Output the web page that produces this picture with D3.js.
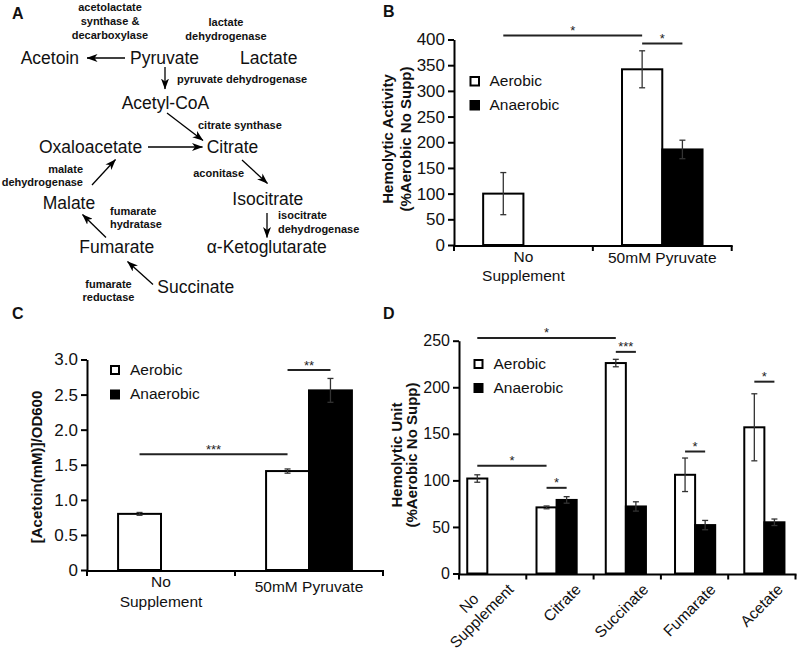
<!DOCTYPE html>
<html><head><meta charset="utf-8">
<script src="https://cdn.jsdelivr.net/npm/d3@7"></script>
<style>body{margin:0;background:#fff}svg{display:block}</style>
</head><body>
<script>
// ================= DATA =================
// Panel A: pathway
const metabolites = ["Acetoin","Pyruvate","Lactate","Acetyl-CoA","Oxaloacetate","Citrate","Malate","Isocitrate","Fumarate","α-Ketoglutarate","Succinate"];
const reactions = [["Pyruvate","Acetoin"],["Pyruvate","Acetyl-CoA"],["Acetyl-CoA","Citrate"],["Oxaloacetate","Citrate"],["Malate","Oxaloacetate"],["Fumarate","Malate"],["Succinate","Fumarate"],["Citrate","Isocitrate"],["Isocitrate","α-Ketoglutarate"]];
const enzymes = [["acetolactate","synthase &","decarboxylase"],["lactate","dehydrogenase"],["pyruvate dehydrogenase"],["citrate synthase"],["malate","dehydrogenase"],["aconitase"],["fumarate","hydratase"],["isocitrate","dehydrogenase"],["fumarate","reductase"]];

// Panel B: hemolytic activity
const bCategories = ["No Supplement","50mM Pyruvate"];
const bLabels = [["No","Supplement"],["50mM Pyruvate"]];
const bAerobic = [100, 342];
const bAerobicErr = [41, 36];
const bAnaerobic = [null, 186];
const bAnaerobicErr = [null, 18];
const bTicks = [0,50,100,150,200,250,300,350,400];
const bSig = [{from:[0,"a"],to:[1,"a"],y:408,label:"*"},{from:[1,"a"],to:[1,"n"],y:392,label:"*"}];

// Panel C: acetoin
const cCategories = ["No Supplement","50mM Pyruvate"];
const cLabels = [["No","Supplement"],["50mM Pyruvate"]];
const cAerobic = [0.80, 1.41];
const cAerobicErr = [0.02, 0.03];
const cAnaerobic = [null, 2.56];
const cAnaerobicErr = [null, 0.17];
const cTicks = [0,0.5,1.0,1.5,2.0,2.5,3.0];
const cSig = [{from:[0,"a"],to:[1,"a"],y:1.65,label:"***"},{from:[1,"a"],to:[1,"n"],y:2.85,label:"**"}];

// Panel D: hemolytic unit
const dCategories = ["No Supplement","Citrate","Succinate","Fumarate","Acetate"];
const dLabels = [["No","Supplement"],["Citrate"],["Succinate"],["Fumarate"],["Acetate"]];
const dAerobic = [102, 71, 226, 106, 157];
const dAerobicErr = [4, 1.5, 4, 18, 36];
const dAnaerobic = [null, 79, 72, 52, 55];
const dAnaerobicErr = [null, 3.5, 5, 5, 3.5];
const dTicks = [0,50,100,150,200,250];
const dSig = [
  {from:[0,"a"],to:[2,"a"],y:253,label:"*"},
  {from:[2,"a"],to:[2,"n"],y:238,label:"***"},
  {from:[0,"a"],to:[1,"a"],y:115.6,label:"*"},
  {from:[1,"a"],to:[1,"n"],y:92,label:"*"},
  {from:[3,"a"],to:[3,"n"],y:131,label:"*"},
  {from:[4,"a"],to:[4,"n"],y:206,label:"*"}
];
const seriesNames = ["Aerobic","Anaerobic"];

// ================= LAYOUT =================
const FONT = '"Liberation Sans", Arial, Helvetica, sans-serif';
const W = 798, H = 654;
const svg = d3.select("body").append("svg").attr("width", W).attr("height", H)
  .style("font-family", FONT);
svg.append("rect").attr("width", W).attr("height", H).attr("fill", "#fff");

// ---------- Panel A ----------
const metPos = {
  "Acetoin":[20.7,64], "Pyruvate":[130,64], "Lactate":[240,64], "Acetyl-CoA":[121.7,109],
  "Oxaloacetate":[39,153], "Citrate":[206.7,153], "Malate":[42.7,208.5], "Isocitrate":[232.3,205],
  "Fumarate":[79.3,253.3], "α-Ketoglutarate":[206.7,253.3], "Succinate":[157.3,292.7]
};
const arrowPts = [
  [[125,58],[87,58]], [[165,67],[165,89]], [[167,113],[203,140.5]], [[148,147],[202.5,147]],
  [[92,185],[115.5,159.5]], [[106,237.5],[82.5,214.5]], [[153,284.5],[127.5,261.5]],
  [[242,160],[267.5,183.5]], [[267,213],[267,237.5]]
];
const enzPos = [
  {x:110,y:11,a:"middle",lh:14}, {x:226,y:26,a:"middle",lh:14}, {x:177,y:83,a:"start",lh:14},
  {x:198,y:128.5,a:"start",lh:14}, {x:83,y:172.5,a:"end",lh:13.5}, {x:244,y:177,a:"end",lh:14},
  {x:110,y:214.5,a:"start",lh:13.5}, {x:278,y:219,a:"start",lh:13.5}, {x:108.5,y:287.5,a:"middle",lh:13.5}
];

const defs = svg.append("defs");
defs.append("marker").attr("id","ah").attr("markerUnits","userSpaceOnUse")
  .attr("viewBox","0 0 11 8").attr("markerWidth",11).attr("markerHeight",8)
  .attr("refX",10.5).attr("refY",4).attr("orient","auto")
  .append("path").attr("d","M0,0 L11,4 L0,8 L3,4 Z").attr("fill","#000");

const gA = svg.append("g");
gA.append("text").attr("x",12).attr("y",19).attr("font-size",16).attr("font-weight","bold").attr("fill","#111").text("A");
gA.selectAll("text.met").data(metabolites).join("text").attr("class","met")
  .attr("x", d => metPos[d][0]).attr("y", d => metPos[d][1])
  .attr("font-size", 17.5).attr("fill","#111").text(d => d);
gA.selectAll("line.arr").data(reactions).join("line").attr("class","arr")
  .attr("x1",(d,i)=>arrowPts[i][0][0]).attr("y1",(d,i)=>arrowPts[i][0][1])
  .attr("x2",(d,i)=>arrowPts[i][1][0]).attr("y2",(d,i)=>arrowPts[i][1][1])
  .attr("stroke","#000").attr("stroke-width",1.3).attr("marker-end","url(#ah)");
enzymes.forEach((lines,i) => {
  const p = enzPos[i];
  const t = gA.append("text").attr("font-size",11).attr("font-weight","bold").attr("fill","#111")
    .attr("text-anchor",p.a);
  lines.forEach((ln,j) => t.append("tspan").attr("x",p.x).attr("y",p.y + j*p.lh).text(ln));
});

// ---------- Bar panel ----------
function barPanel(p) {
  const g = svg.append("g");
  const x = d3.scaleBand().domain(p.cats).range(p.xRange);
  const xb = d3.scaleBand().domain(p.cats).range(p.barRange || p.xRange);
  const y = d3.scaleLinear().domain([0, p.yMax]).range(p.yRange);
  const bw = xb.step() * 0.29;
  const cx = c => xb(c) + xb.bandwidth()/2;
  const barMid = (i, s) => cx(p.cats[i]) + (s === "a" ? -bw/2 : bw/2);
  const series = [
    {vals:p.aer, errs:p.aerErr, fill:"#fff", s:"a"},
    {vals:p.ana, errs:p.anaErr, fill:"#000", s:"n"}
  ];
  series.forEach(se => {
    const rows = p.cats.map((c,i)=>({i, v:se.vals[i], e:se.errs[i]})).filter(d => d.v != null);
    g.selectAll(null).data(rows).join("rect")
      .attr("x", d => barMid(d.i, se.s) - bw/2).attr("y", d => y(d.v))
      .attr("width", bw).attr("height", d => y(0) - y(d.v))
      .attr("fill", se.fill).attr("stroke","#000").attr("stroke-width",2);
    const eb = g.selectAll(null).data(rows).join("g").attr("stroke","#333").attr("stroke-width",1.3);
    eb.append("line").attr("x1", d => barMid(d.i, se.s)).attr("x2", d => barMid(d.i, se.s))
      .attr("y1", d => y(d.v - d.e)).attr("y2", d => y(d.v + d.e));
    [-1, 1].forEach(sg => eb.append("line")
      .attr("x1", d => barMid(d.i, se.s) - 3).attr("x2", d => barMid(d.i, se.s) + 3)
      .attr("y1", d => y(d.v + sg*d.e)).attr("y2", d => y(d.v + sg*d.e)));
  });
  // y axis
  const ya = g.append("g").attr("transform", `translate(${p.xRange[0]},0)`)
    .call(d3.axisLeft(y).tickValues(p.ticks).tickFormat(p.fmt).tickSize(6).tickSizeOuter(0).tickPadding(3));
  ya.attr("font-family", FONT).attr("font-size", p.tickFont);
  ya.select(".domain").attr("stroke","#000").attr("stroke-width",2);
  ya.selectAll(".tick line").attr("stroke","#000").attr("stroke-width",2);
  ya.selectAll(".tick text").attr("fill","#111");
  // x axis
  const y0 = y(0);
  g.append("line").attr("x1", p.xRange[0]-1).attr("x2", p.xRange[1]+1).attr("y1", y0+1).attr("y2", y0+1)
    .attr("stroke","#000").attr("stroke-width",2);
  const bounds = p.cats.map(c => x(c)).concat([p.xRange[1]]);
  g.selectAll(null).data(bounds).join("line")
    .attr("x1", d => d).attr("x2", d => d).attr("y1", y0+1).attr("y2", y0+6)
    .attr("stroke","#000").attr("stroke-width",2);
  // category labels
  p.labels.forEach((lines, i) => {
    const c = x(p.cats[i]) + x.bandwidth()/2;
    if (!p.rotate) {
      const t = g.append("text").attr("font-size", p.labelFont).attr("fill","#111").attr("text-anchor","middle");
      if (lines.length === 1) t.append("tspan").attr("x", c).attr("y", y0 + p.singleDy).text(lines[0]);
      else lines.forEach((ln, j) => t.append("tspan").attr("x", c).attr("y", y0 + p.firstDy + j*p.lineH).text(ln));
    } else {
      const lg = g.append("g").attr("transform", `translate(${c + 22},${y0 + 17}) rotate(-45)`);
      const ts = lines.map(ln => lg.append("text").attr("font-size", p.labelFont).attr("fill","#111")
        .attr("text-anchor","middle").text(ln));
      const wmax = d3.max(ts, t => t.node().getComputedTextLength());
      ts.forEach((t, j) => t.attr("x", -wmax/2).attr("y", -(lines.length-1-j)*p.lineH));
    }
  });
  // significance
  p.sig.forEach(s => {
    const xa = barMid(s.from[0], s.from[1]), xz = barMid(s.to[0], s.to[1]), yy = y(s.y);
    g.append("line").attr("x1", xa).attr("x2", xz).attr("y1", yy).attr("y2", yy)
      .attr("stroke","#222").attr("stroke-width",2);
    g.append("text").attr("x", (xa+xz)/2).attr("y", yy - 0.5).attr("text-anchor","middle")
      .attr("font-size", 13).attr("fill","#222").text(s.label);
  });
  // legend
  seriesNames.forEach((nm, k) => {
    const top = p.legend[1] + k*p.legend[2];
    g.append("rect").attr("x", p.legend[0]+1).attr("y", top+1).attr("width", p.legend[3]).attr("height", p.legend[3])
      .attr("fill", k ? "#000" : "#fff").attr("stroke","#000").attr("stroke-width",2);
    g.append("text").attr("x", p.legend[0] + 20).attr("y", top + p.legend[3] + 1.5)
      .attr("font-size", 15.5).attr("fill","#111").text(nm);
  });
  // title
  p.title.forEach((ln, j) => {
    g.append("text").attr("transform", `translate(${p.titleX[j]},${p.titleY}) rotate(-90)`)
      .attr("text-anchor","middle").attr("font-weight","bold").attr("font-size",15).attr("fill","#111").text(ln);
  });
  // panel letter
  g.append("text").attr("x", p.letter[0]).attr("y", p.letter[1]).attr("font-size",16).attr("font-weight","bold")
    .attr("fill","#111").text(p.letter[2]);
}

barPanel({cats:bCategories, labels:bLabels, aer:bAerobic, aerErr:bAerobicErr, ana:bAnaerobic, anaErr:bAnaerobicErr,
  yMax:400, ticks:bTicks, fmt:d3.format("d"), xRange:[454,731.7], yRange:[245,39.5], tickFont:17,
  labelFont:15.5, singleDy:18, firstDy:17, lineH:18.5, sig:bSig, legend:[469.5,76,24,8.5],
  title:["Hemolytic Activity","(%Aerobic No Supp)"], titleX:[393,411], titleY:139, letter:[383,17,"B"]});

barPanel({cats:cCategories, labels:cLabels, aer:cAerobic, aerErr:cAerobicErr, ana:cAnaerobic, anaErr:cAnaerobicErr,
  yMax:3, ticks:cTicks, fmt:d => d === 0 ? "0" : d.toFixed(1), xRange:[87,383], yRange:[570,359.5], tickFont:17,
  labelFont:15.5, singleDy:22, firstDy:17, lineH:20, sig:cSig, legend:[110,365,24.5,8],
  title:["[Acetoin(mM)]/OD600"], titleX:[42], titleY:467, letter:[12,319,"C"]});

barPanel({cats:dCategories, labels:dLabels, aer:dAerobic, aerErr:dAerobicErr, ana:dAnaerobic, anaErr:dAnaerobicErr,
  yMax:250, ticks:dTicks, fmt:d3.format("d"), xRange:[459,795.5], barRange:[452.7,799], yRange:[573.5,340.7], tickFont:16,
  labelFont:15.5, lineH:18, rotate:true, sig:dSig, legend:[473.5,359,24,8],
  title:["Hemolytic Unit","(%Aerobic No Supp)"], titleX:[402,417], titleY:455, letter:[383,319,"D"]});
</script>
</body></html>
